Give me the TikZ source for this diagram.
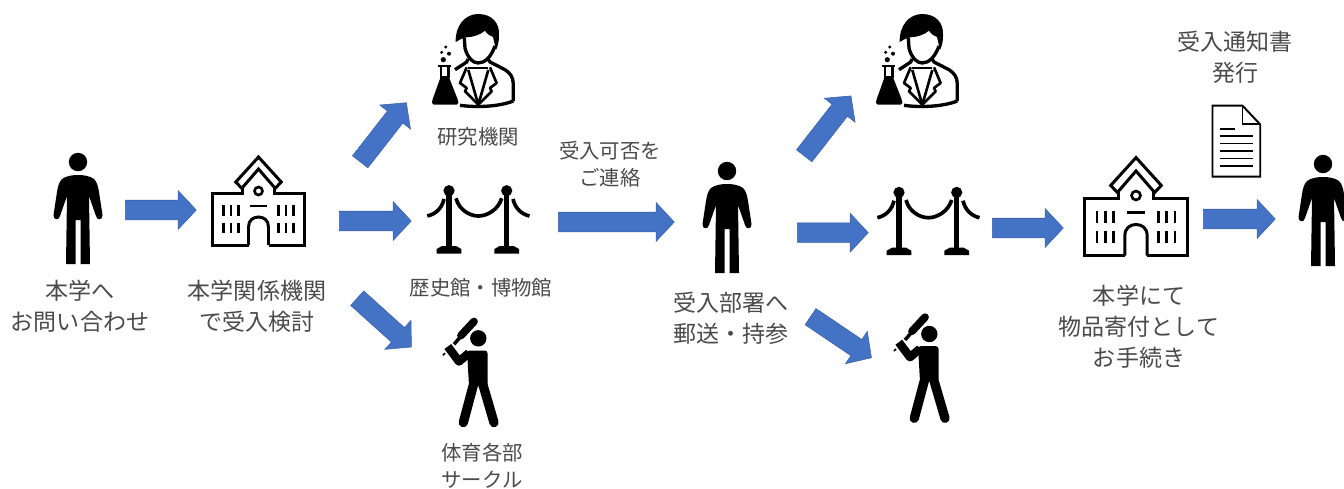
\documentclass[tikz,border=0pt]{standalone}
\usepackage{fontspec}
\setmainfont{Noto Sans CJK JP}
\usepackage{tikz}
\usetikzlibrary{shapes.arrows}
\definecolor{flowblue}{HTML}{4472C4}
\definecolor{labelgray}{HTML}{4A4A4A}
\tikzset{flow/.style={shape=single arrow,fill=flowblue,draw=flowblue!85!black,line width=0.3pt,
		anchor=tail,inner xsep=0pt,inner ysep=0.19cm,single arrow head indent=0pt,
		single arrow head extend=0.195cm,single arrow tip angle=94,
		minimum width=0.77cm,minimum height=#1},
	biglabel/.style={text=labelgray,align=center,font=\fontsize{13.1}{17.7}\selectfont},
	smalllabel/.style={text=labelgray,align=center,font=\fontsize{11.6}{15.5}\selectfont},
	person/.pic={
		\fill (0,0) circle (9.2);
		\fill (0,13) .. controls (6,13) and (12,14) .. (16,17)
			.. controls (19,20) and (20,24) .. (21,30) -- (24.5,53)
			.. controls (25,58) and (19,59) .. (18,54) -- (11,34)
			-- (12,102) -- (2.5,102) -- (2.5,58) -- (-2.5,58) -- (-2.5,102) -- (-12,102) -- (-11,34)
			-- (-18,54) .. controls (-19,59) and (-25,58) .. (-24.5,53) -- (-21,30)
			.. controls (-20,24) and (-19,20) .. (-16,17)
			.. controls (-12,14) and (-6,13) .. (0,13) -- cycle;
	},
	school/.pic={
		\draw[line width=1.7pt] (-10,0) -- (-46,0) -- (-46,-51.7) -- (-16,-51.7) -- (-16,-58);
		\draw[line width=1.7pt] (10,0) -- (46,0) -- (46,-51.7) -- (16,-51.7) -- (16,-58);
		\draw[line width=1.7pt] (-10,0) -- (-10,-18) .. controls (-10,-25) and (-5,-28) .. (0,-28)
			.. controls (5,-28) and (10,-25) .. (10,-18) -- (10,0);
		\draw[line width=1.7pt] (0,-88) -- (-22.7,-63) -- (-16.7,-56.7) -- (0,-76) -- (16.7,-56.7) -- (22.7,-63) -- cycle;
		\draw[line width=1.5pt] (0,-54) circle (4);
		\draw[line width=1.5pt] (-8.5,-39) -- (8.5,-39);
		\foreach \winx in {-35,-27.5,-20,20,27.5,35}{
			\draw[line width=1.4pt] (\winx,-40) -- (\winx,-29);
			\draw[line width=1.4pt] (\winx,-22.3) -- (\winx,-11.7);
		}
	},
	scientist/.pic={
		\fill (115.7,42) .. controls (115,26) and (125,14) .. (138,14)
			.. controls (152,14) and (160,23) .. (159,36)
			.. controls (159,41) and (158,46) .. (156,50) -- (153,37)
			.. controls (150,36) and (147,34) .. (145,30.7)
			.. controls (140,35) and (133,37) .. (126.7,37.3)
			.. controls (122,38) and (119,40) .. (115.7,42) -- cycle;
		\draw[line width=1.9pt] (124.3,38) -- (125,48) .. controls (127,57) and (133,63) .. (138,63)
			.. controls (145,63) and (151,57) .. (155,46);
		\draw[line width=1.9pt] (128,59) -- (126.7,62) -- (115,69.7);
		\draw[line width=1.9pt] (148,59) -- (150,62) -- (165,69.7) .. controls (170,73) and (173.3,77) .. (173.3,84) -- (173.3,101);
		\draw[line width=1.9pt] (120,105.3) .. controls (135,107.5) and (158,107) .. (173.3,101);
		\draw[line width=1.6pt] (128.3,68) -- (148.3,68);
		\draw[line width=1.5pt,line join=round] (126.7,67.3) -- (120,83) -- (126.7,88) -- (125,91.3) -- (138.3,104.7)
			-- (151.6,91.3) -- (150,88) -- (156.6,83) -- (150,67.3);
		\draw[line width=1.5pt,line join=round] (128.3,70) -- (138.3,104.7) -- (148.3,70);
		\fill[rounded corners=1pt] (101,76) -- (108.5,76) -- (118.3,101) -- (118.3,104.7) -- (92,104.7) -- (92,101) -- cycle;
		\draw[line width=1.3pt] (101,66.3) -- (101,78);
		\draw[line width=1.3pt] (108.5,66.3) -- (108.5,78);
		\draw[line width=1.3pt] (98.3,66.3) -- (111,66.3);
		\fill (103.3,59.7) circle (2.6);
		\fill (109,53.7) circle (2);
		\fill (101.7,52.3) circle (1.7);
		\fill (105.7,47) circle (1.7);
	},
	stanchion/.pic={
		\foreach \postx in {109,166.7}{
			\fill (\postx,20.7) circle (5.6);
			\fill (\postx-2.7,20) rectangle (\postx+2.7,78);
			\fill (\postx-7,76) -- (\postx+7,76) -- (\postx+12.3,79) -- (\postx+12.3,83.5)
				-- (\postx-12.3,83.5) -- (\postx-12.3,79) -- cycle;
		}
		\draw[line width=2.1pt] (116,28.3) .. controls (119,40) and (130,46) .. (138.3,46)
			.. controls (147,46) and (158,40) .. (161.7,28.3);
		\draw[line width=2.1pt] (104,29) .. controls (102,38) and (96,44) .. (87.3,46);
		\draw[line width=2.1pt] (173,29) .. controls (175,38) and (181,44) .. (189.5,46);
	},
	batter/.pic={
		\fill (108.3,38.3) circle (8.2);
		\fill[rounded corners=1.5pt] (97,50.5) -- (117.5,50.5) -- (117.5,86) -- (99,86) -- cycle;
		\draw[line width=5.3pt,line cap=round] (112.3,82.6) -- (124,122.6);
		\draw[line width=5.3pt,line cap=round] (104,82.6) -- (93.3,122.6);
		\draw[line width=4.8pt,line join=round] (99,53) -- (89,61.5) -- (77.8,46.5);
		\draw[line width=2pt] (84,44.3) -- (92,35);
		\draw[line width=4.4pt,line cap=round] (91,35.5) -- (104,21.5);
		\fill[rotate around={45:(74,54.3)}] (72.5,53.5) rectangle (75.5,55.1);
	},
	docsheet/.pic={
		\draw[line width=1.1pt,line join=miter] (0,0) -- (30,0) -- (47.7,18.7) -- (47.7,71) -- (0,71) -- cycle;
		\draw[line width=1.1pt] (30,0) -- (30,18.7) -- (47.7,18.7);
		\draw[line width=0.9pt] (7.7,23.3) -- (22.7,23.3);
		\foreach \liney in {30.3,37.7,45,52.7,60}{
			\draw[line width=0.9pt] (7.7,\liney) -- (40.3,\liney);
		}
	}}
\begin{document}
\begin{tikzpicture}[x=0.02cm,y=-0.02cm]
	\useasboundingbox (0,0) rectangle (1344,488);

	\pic (person1) at (78,162) {person};
	\pic (school1) at (258.5,245) {school};
	\pic (science1) at (340,0) {scientist};
	\pic (rope1) at (340,170) {stanchion};
	\pic (batter1) at (370,300) {batter};
	\pic (person2) at (727,171) {person};
	\pic (science2) at (784,0) {scientist};
	\pic (rope2) at (790,171.7) {stanchion};
	\pic (batter2) at (821,295.7) {batter};
	\pic[scale=1.115] (school2) at (1136,255.7) {school};
	\pic (paper) at (1212.5,105.7) {docsheet};
	\pic (person3) at (1323,164) {person};

	\node[flow=1.42cm] (step1) at (125,210) {};
	\node[flow=1.44cm] (step2) at (339,221) {};
	\node[flow=1.5cm,rotate=52] (step3) at (360,162) {};
	\node[flow=1.46cm,rotate=-42] (step4) at (357,298) {};
	\node[flow=2.32cm] (step5) at (558,222) {};
	\node[flow=1.52cm,rotate=52] (step6) at (804,156) {};
	\node[flow=1.42cm] (step7) at (797,232.7) {};
	\node[flow=1.47cm,rotate=-34] (step8) at (810.3,316.5) {};
	\node[flow=1.42cm] (step9) at (992,228) {};
	\node[flow=1.44cm] (step10) at (1203,219) {};

	\node[biglabel] (ask) at (80,306) {本学へ\\お問い合わせ};
	\node[biglabel] (review) at (257,306) {本学関係機関\\で受入検討};
	\node[smalllabel] (lab) at (478,137) {研究機関};
	\node[smalllabel] (museum) at (481,288) {歴史館・博物館};
	\node[smalllabel] (club) at (482,466) {体育各部\\サークル};
	\node[smalllabel] (reply) at (610,164) {受入可否を\\ご連絡};
	\node[biglabel] (send) at (731,318) {受入部署へ\\郵送・持参};
	\node[biglabel] (donate) at (1139,327) {本学にて\\物品寄付として\\お手続き};
	\node[biglabel] (notice) at (1235,57) {受入通知書\\発行};
\end{tikzpicture}
\end{document}
